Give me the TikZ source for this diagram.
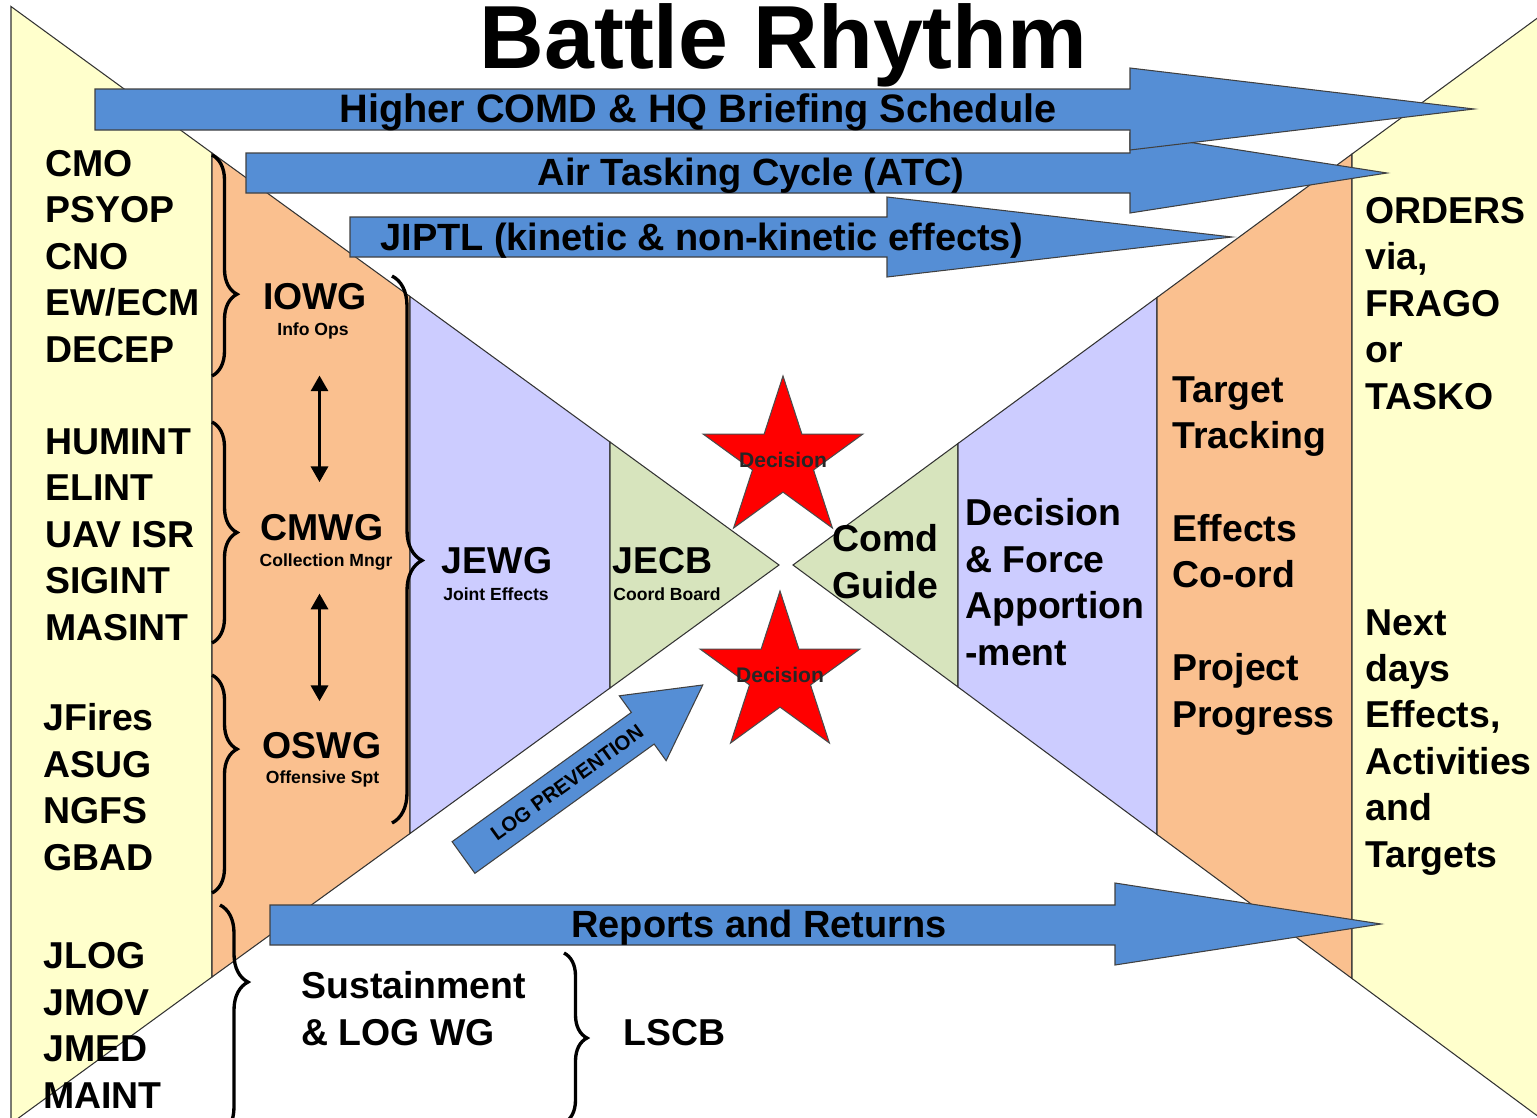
\documentclass[tikz,border=0pt]{standalone}
\usepackage{fontspec}
\setmainfont{Liberation Sans}
\usepackage{tikz}
\usetikzlibrary{positioning,arrows.meta,shapes.geometric,decorations.pathreplacing,calc}
\definecolor{amarillo}{RGB}{255,255,204}
\definecolor{naranja}{RGB}{250,192,143}
\definecolor{lila}{RGB}{204,204,255}
\definecolor{verde}{RGB}{215,228,189}
\definecolor{azul}{RGB}{85,142,213}
\definecolor{rojo}{RGB}{255,0,0}

\begin{document}
\begin{tikzpicture}[
  banda/.style={fill=#1, draw=black!80, line width=0.6pt},
  flecha/.style={fill=azul, draw=black!75, line width=0.6pt},
  titulo/.style={font=\fontsize{51}{60}\selectfont\bfseries, anchor=base, inner sep=0pt},
  cinta/.style={font=\fontsize{21.6}{26}\selectfont\bfseries, anchor=base, inner sep=0pt},
  lista/.style={font=\fontsize{21.3}{26.4}\selectfont\bfseries, align=left,
    anchor=base west, inner sep=0pt},
  grupo/.style={font=\fontsize{21.3}{26.4}\selectfont\bfseries, anchor=base, inner sep=0pt},
  sub/.style={font=\fontsize{10}{12}\selectfont\bfseries, anchor=base, inner sep=0pt},
  llave/.style={decorate, decoration={brace, amplitude=0.5cm, aspect=#1}, line width=1.9pt},
  estrella/.style={star, star points=5, star point ratio=2.618, minimum size=3.36cm,
    fill=rojo, draw=black!70, line width=0.6pt, inner sep=0pt},
  decision/.style={font=\fontsize{12}{14}\selectfont\bfseries, text=black!85, inner sep=0pt},
  logtxt/.style={font=\fontsize{11.6}{14}\selectfont\bfseries, inner sep=0pt},
  dobleflecha/.style={arrows={Triangle[width=9.5pt,length=9pt]-Triangle[width=9.5pt,length=9pt]},
    line width=2.2pt},
]
  \useasboundingbox (0,0) rectangle (30.74,-22.34);
  \clip (0,0) rectangle (30.74,-22.34);
  % ---- Embudo izquierdo ----
  \draw[banda=amarillo] (0.22,-0.13) -- (4.24,-3.06) -- (4.24,-19.54) -- (0.22,-22.47) -- cycle;
  \draw[banda=naranja] (4.24,-3.06) -- (8.20,-5.93) -- (8.20,-16.67) -- (4.24,-19.54) -- cycle;
  \draw[banda=lila] (8.20,-5.93) -- (12.20,-8.84) -- (12.20,-13.76) -- (8.20,-16.67) -- cycle;
  \draw[banda=verde] (12.20,-8.84) -- (15.58,-11.30) -- (12.20,-13.76) -- cycle;
  % ---- Embudo derecho ----
  \draw[banda=verde] (15.86,-11.30) -- (19.16,-8.87) -- (19.16,-13.74) -- cycle;
  \draw[banda=lila] (19.16,-8.87) -- (23.14,-5.95) -- (23.14,-16.69) -- (19.16,-13.74) -- cycle;
  \draw[banda=naranja] (23.14,-5.95) -- (27.04,-3.08) -- (27.04,-19.57) -- (23.14,-16.69) -- cycle;
  \draw[banda=amarillo] (27.04,-3.08) -- (30.90,-0.25) -- (30.90,-22.43) -- (27.04,-19.57) -- cycle;
  % ---- Decisiones ----
  \node[estrella] (e1) at (15.66,-9.20) {};
  \node[estrella] (e2) at (15.60,-13.50) {};
  \node[decision] (d1) at (e1) {Decision};
  \node[decision] (d2) at (e2) {Decision};
  % ---- Flechas de ciclo ----
  \draw[flecha] (7.00,-4.34) -- (17.74,-4.34) -- (17.74,-3.94) -- (24.64,-4.74)
    -- (17.74,-5.54) -- (17.74,-5.14) -- (7.00,-5.14) -- cycle;
  \draw[flecha] (4.92,-3.06) -- (22.60,-3.06) -- (22.60,-2.66) -- (27.74,-3.46)
    -- (22.60,-4.26) -- (22.60,-3.86) -- (4.92,-3.86) -- cycle;
  \draw[flecha] (1.90,-1.78) -- (22.60,-1.78) -- (22.60,-1.36) -- (29.48,-2.18)
    -- (22.60,-3.00) -- (22.60,-2.60) -- (1.90,-2.60) -- cycle;
  \draw[flecha] (5.40,-18.10) -- (22.30,-18.10) -- (22.30,-17.66) -- (27.62,-18.48)
    -- (22.30,-19.30) -- (22.30,-18.90) -- (5.40,-18.90) -- cycle;
  \begin{scope}[shift={(9.27,-17.15)}, rotate=35.8]
    \draw[flecha] (0,-0.39) -- (4.42,-0.39) -- (4.42,-0.80) -- (5.90,0)
      -- (4.42,0.80) -- (4.42,0.39) -- (0,0.39) -- cycle;
    \node[logtxt, transform shape] (logp) at (2.55,0) {LOG PREVENTION};
  \end{scope}
  \node[titulo] (tit) at (15.67,-1.36) {Battle Rhythm};
  \node[cinta, font=\fontsize{22.6}{26}\selectfont\bfseries] (hq) at (13.96,-2.44)
    {Higher COMD \& HQ Briefing Schedule};
  \node[cinta] (atc) at (15.02,-3.70) {Air Tasking Cycle (ATC)};
  \node[cinta] (jiptl) at (14.04,-5.00) {JIPTL (kinetic \& non-kinetic effects)};
  \node[cinta] (rep) at (15.18,-18.74) {Reports and Returns};
  % ---- Listas de entrada (anclas en la ultima linea) ----
  \node[lista] (io) at (0.90,-7.24) {CMO\\PSYOP\\CNO\\EW/ECM\\DECEP};
  \node[lista] (intel) at (0.90,-12.80) {HUMINT\\ELINT\\UAV ISR\\SIGINT\\MASINT};
  \node[lista] (fuegos) at (0.86,-17.40) {JFires\\ASUG\\NGFS\\GBAD};
  \node[lista] (logis) at (0.86,-22.16) {JLOG\\JMOV\\JMED\\MAINT};
  % ---- Grupos de trabajo ----
  \node[grupo] (iowg) at (6.30,-6.18) {IOWG};
  \node[sub] (iowgsub) at (6.26,-6.70) {Info Ops};
  \node[grupo] (cmwg) at (6.44,-10.80) {CMWG};
  \node[sub] (cmwgsub) at (6.52,-11.32) {Collection Mngr};
  \node[grupo] (oswg) at (6.44,-15.16) {OSWG};
  \node[sub] (oswgsub) at (6.45,-15.66) {Offensive Spt};
  \node[grupo] (jewg) at (9.94,-11.46) {JEWG};
  \node[sub] (jewgsub) at (9.92,-12.00) {Joint Effects};
  \node[grupo, anchor=base west] (jecb) at (12.24,-11.46) {JECB};
  \node[sub, anchor=base west] (jecbsub) at (12.26,-12.00) {Coord Board};
  \node[lista] (comd) at (16.64,-11.96) {Comd\\Guide};
  \node[lista] (fuerza) at (19.30,-13.30) {Decision\\\& Force\\Apportion\\-ment};
  \node[lista] (seguim) at (23.44,-14.54)
    {Target\\Tracking\\[26.4pt]Effects\\Co-ord\\[26.4pt]Project\\Progress};
  \node[lista] (ordenes) at (27.30,-8.18) {ORDERS\\via,\\FRAGO\\or\\TASKO};
  \node[lista] (efectos) at (27.30,-17.34) {Next\\days\\Effects,\\Activities\\and\\Targets};
  \node[lista] (sost) at (6.02,-20.90) {Sustainment\\\& LOG WG};
  \node[grupo, anchor=base west] (lscb) at (12.46,-20.90) {LSCB};
  % ---- Llaves ----
  \draw[llave=0.63] (4.24,-3.10) -- (4.24,-7.52);
  \draw[llave=0.5] (4.24,-8.44) -- (4.24,-12.86);
  \draw[llave=0.34] (4.24,-13.50) -- (4.24,-17.86);
  \draw[llave=0.335, decoration={amplitude=0.56cm}] (4.40,-18.10) -- (4.40,-22.70);
  \draw[llave=0.52, decoration={amplitude=0.6cm}] (7.84,-5.52) -- (7.84,-16.46);
  \draw[llave=0.5, decoration={amplitude=0.46cm}] (11.28,-19.06) -- (11.28,-22.46);
  % ---- Enlaces entre grupos ----
  \coordinate (eje) at (6.39,0);
  \draw[dobleflecha, shorten <=20.7pt, shorten >=17.8pt] (iowgsub.south -| eje) -- (cmwg.north -| eje);
  \draw[dobleflecha, shorten <=13.3pt, shorten >=17.2pt] (cmwgsub.south -| eje) -- (oswg.north -| eje);
\end{tikzpicture}
\end{document}
